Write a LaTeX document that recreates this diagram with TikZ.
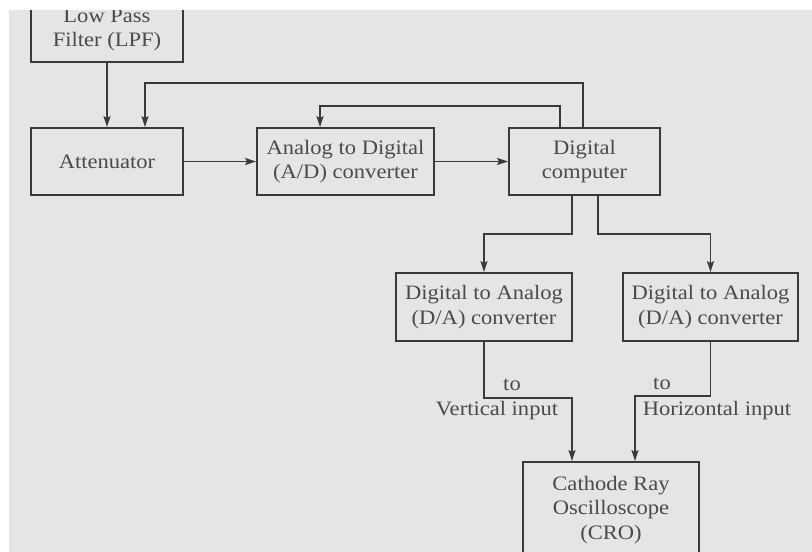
\documentclass[tikz,border=0pt]{standalone}
\usepackage{fontspec}
\setmainfont{Liberation Serif}[FakeStretch=1.1]
\usetikzlibrary{arrows.meta}
\definecolor{ink}{HTML}{3A3A3A}
\definecolor{txt}{HTML}{4A4A4A}
\definecolor{paper}{HTML}{E5E5E5}
\begin{document}
\begin{tikzpicture}[x=1pt,y=-1pt,
  blk/.style={draw=ink, line width=1.8pt, inner sep=0pt, align=center, text=txt,
    font=\fontsize{20.5}{24.5}\selectfont},
  lbl/.style={inner sep=0pt, text=txt, font=\fontsize{20.5}{24.5}\selectfont},
  wire/.style={draw=ink, line width=1.8pt},
  arr/.style={wire, -{Stealth[length=11pt,width=7pt,inset=2pt]}}]
% background
\fill[white] (0,0) rectangle (812,552);
\fill[paper] (9,10) rectangle (812,552);
\useasboundingbox (0,0) rectangle (812,552);
% blocks
\node[blk, minimum width=152pt, minimum height=64pt] (lpf) at (107,30) {Low Pass\\Filter (LPF)};
\node[blk, minimum width=152pt, minimum height=67pt] (att) at (107,161.5) {Attenuator};
\node[blk, minimum width=177pt, minimum height=67pt] (ad) at (345.5,161.5) {Analog to Digital\\(A/D) converter};
\node[blk, minimum width=151pt, minimum height=67pt] (dc) at (584.5,161.5) {Digital\\computer};
\node[blk, minimum width=176pt, minimum height=68pt] (da1) at (484,307) {Digital to Analog\\(D/A) converter};
\node[blk, minimum width=175pt, minimum height=68pt] (da2) at (710.5,307) {Digital to Analog\\(D/A) converter};
\node[blk, minimum width=176pt, minimum height=96pt] (cro) at (611,510) {Cathode Ray\\Oscilloscope\\(CRO)};
% connectors
\draw[arr] (lpf) -- (att);
\draw[arr] ([xshift=-1.5pt]dc.north) -- ++(0,-44) -| ([xshift=38pt]att.north);
\draw[arr] ([xshift=-24.5pt]dc.north) -- ++(0,-21) -| ([xshift=-25.5pt]ad.north);
\draw[arr] (att) -- (ad);
\draw[arr] (ad) -- (dc);
\draw[arr] ([xshift=-12.5pt]dc.south) -- ++(0,38) -| (da1.north);
\draw[arr] ([xshift=13.5pt]dc.south) -- ++(0,38) -| (da2.north);
\draw[arr] (da1.south) -- ++(0,56) -| ([xshift=-39pt]cro.north);
\draw[arr] (da2.south) -- ++(0,54) -| ([xshift=24pt]cro.north);
% labels
\node[lbl] (to1) at (512,385) {to};
\node[lbl] (vin) at (497,411) {Vertical input};
\node[lbl] (to2) at (662,384) {to};
\node[lbl] (hin) at (717,411) {Horizontal input};
% top white strip
\fill[white] (0,0) rectangle (812,10);
\end{tikzpicture}
\end{document}
